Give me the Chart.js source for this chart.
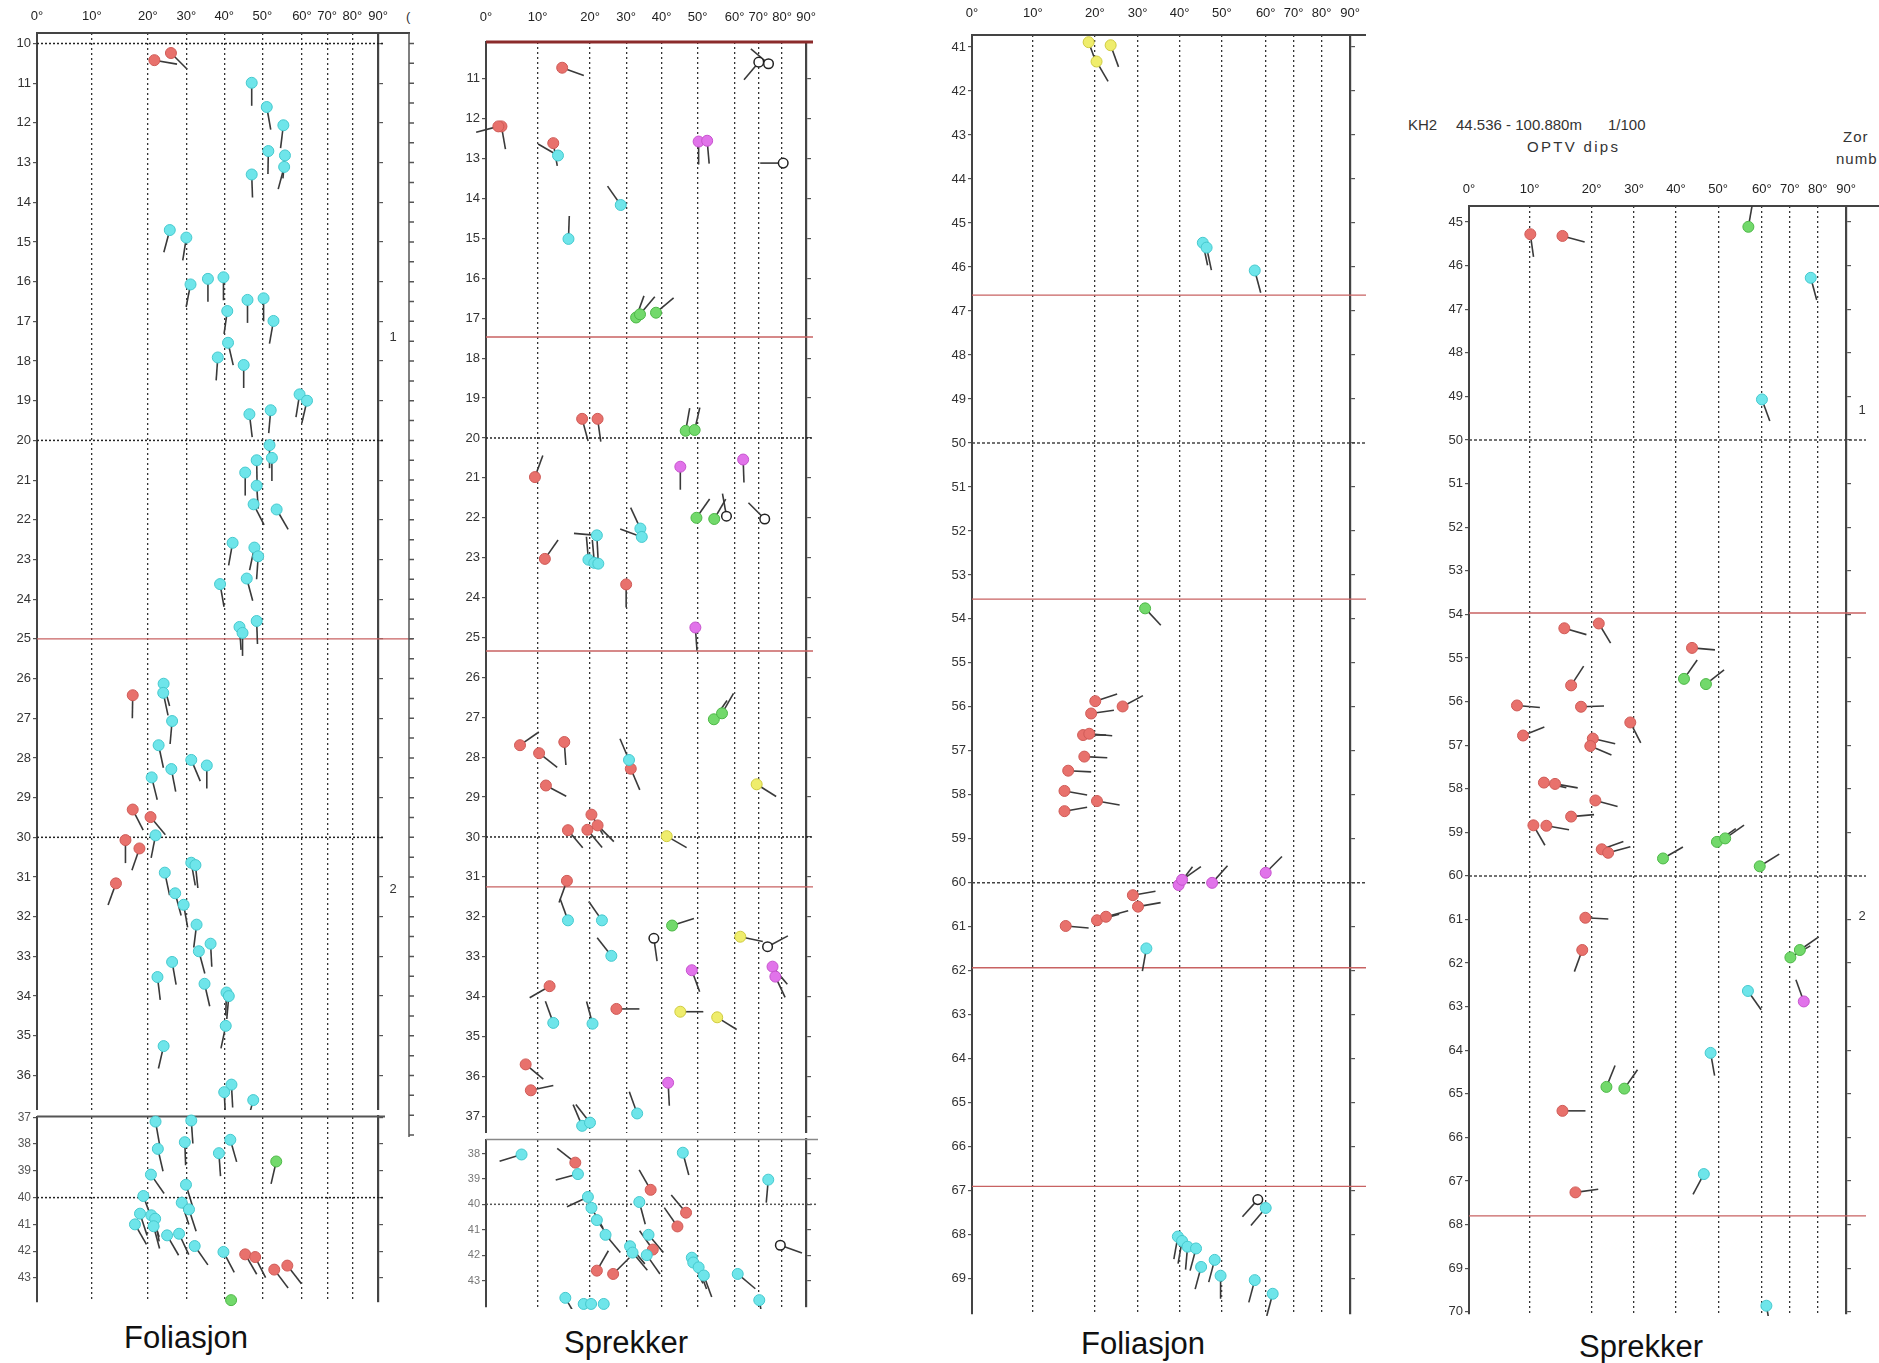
<!DOCTYPE html>
<html>
<head>
<meta charset="utf-8">
<title>OPTV dips</title>
<script src="https://cdn.jsdelivr.net/npm/chart.js@4.4.1/dist/chart.umd.min.js"></script>
<style>
  body { margin: 0; width: 1879px; height: 1363px; position: relative; overflow: hidden; background: #fff;
         font-family: "Liberation Sans", Arial, sans-serif; }
  .t { position: absolute; color: #222; white-space: pre; line-height: 1; }
  .big { font-size: 31px; transform: translate(-50%, -50%); color: #111; }
  .hd { font-size: 15px; color: #333; transform: translateY(-50%); }
</style>
</head>
<body>

<div class="t big" style="left:186px;top:1337px">Foliasjon</div>
<div class="t big" style="left:626px;top:1342px">Sprekker</div>
<div class="t big" style="left:1143px;top:1343px">Foliasjon</div>
<div class="t big" style="left:1641px;top:1346px">Sprekker</div>

<div class="t hd" style="left:1408px;top:124px">KH2</div>
<div class="t hd" style="left:1456px;top:124px">44.536 - 100.880m</div>
<div class="t hd" style="left:1608px;top:124px">1/100</div>
<div class="t hd" style="left:1527px;top:146px;letter-spacing:2.3px">OPTV dips</div>
<div class="t hd" style="left:1843px;top:136px;letter-spacing:1px">Zor</div>
<div class="t hd" style="left:1836px;top:158px;letter-spacing:1px">numb</div>
<div class="t hd" style="left:406px;top:16px;font-size:13px">(</div>

<script>
// Dip ticks on the top axis (degrees)
const dipTicks = [0, 10, 20, 30, 40, 50, 60, 70, 80, 90];

// Tadpoles: [dip °, depth m, tail azimuth °]
// Panel 1 - Foliasjon 10-44 m
const p1Red = [[21.7,10.42,100],[26,10.24,135],[17.3,26.42,181],[17.3,29.3,153],[20.7,29.49,140],
  [16,30.07,180],[18.5,30.28,199],[14.3,31.16,200],[45.5,42.12,150],[48.1,42.22,153],[53,42.69,143],[56.3,42.54,142]];
const p1Cyan = [[47.2,10.99,180],[51.1,11.6,170],[55.3,12.06,187],[51.5,12.71,181],[55.7,12.82,185],[55.5,13.11,195],
  [47.2,13.3,178],[25.7,14.7,195],[30,14.89,189],[31.1,16.07,191],[35.7,15.93,180],[39.8,15.89,180],[46.1,16.46,180],
  [50.3,16.42,180],[40.8,16.74,188],[52.8,16.99,190],[41,17.54,167],[38.3,17.91,184],[45.1,18.1,180],[59.4,18.84,189],
  [62,19,193],[46.6,19.34,173],[52.1,19.24,185],[51.8,20.12,180],[52.4,20.44,180],[48.5,20.5,179],[45.5,20.81,180],
  [48.5,21.14,176],[47.7,21.61,153],[53.6,21.74,150],[42.2,22.58,190],[47.9,22.7,192],[48.9,22.92,184],[45.9,23.48,165],
  [38.9,23.62,170],[48.5,24.55,178],[44,24.7,176],[44.8,24.85,180],[24.1,26.13,165],[24,26.36,168],[26.3,27.07,185],
  [22.8,27.68,168],[31.3,28.05,157],[35.4,28.19,180],[26.1,28.28,169],[21,28.49,166],[22,29.95,191],[31.3,30.64,170],
  [32.4,30.7,174],[24.4,30.89,168],[27.1,31.41,165],[29.3,31.7,170],[32.7,32.2,187],[36.4,32.68,177],[33.3,32.87,165],
  [26.3,33.14,170],[22.5,33.52,173],[34.8,33.69,167],[40.6,33.91,182],[41.2,34.0,185],[40.4,34.75,192],[24.1,35.26,193],
  [41.9,36.23,177],[40,36.42,177],[47.6,36.62,195],
  [22,37.16,170],[31.3,37.12,176],[41.6,37.84,164],[29.6,37.93,178],[22.6,38.18,167],[38.6,38.34,176],[20.8,39.14,145],
  [29.9,39.52,163],[19.2,39.94,160],[28.8,40.19,162],[30.7,40.44,162],[18.6,40.6,162],[20.9,40.66,160],[21.9,40.79,170],
  [17.7,41.0,150],[21.5,41.07,165],[25,41.41,150],[28.1,41.35,155],[32.2,41.81,145],[39.8,42.03,152]];
const p1Green = [[53.5,38.65,193],[41.8,43.83,160]];
const p1RedLines = [25.0];
const p1DotLines = [10, 20, 30, 40];
const p1ZoneNames = ['1', '2'];
const p1ZoneDepths = [17.4, 31.3];

// Panel 2 - Sprekker 10-44 m
const p2Red = [[14.7,10.72,110],[3.0,12.19,170],[2.4,12.19,255],[13.0,12.61,170],[18.5,19.52,165],[22.1,19.52,172],
  [9.5,20.98,20],[11.4,23.03,35],[30,23.67,180],[6.6,27.7,55],[10.3,27.9,128],[15.1,27.62,176],[31.3,28.29,157],
  [11.6,28.71,118],[20.4,29.44,150],[22.1,29.71,135],[15.8,29.83,140],[19.5,29.82,140],[15.6,31.1,200],[12.3,33.74,240],
  [27.3,34.31,90],[7.7,35.7,130],[8.7,36.35,78],[17.2,38.36,308],[36.9,39.43,330],[46.8,40.33,320],[44.4,40.87,325],
  [37.5,41.78,325],[21.9,42.61,30],[26.4,42.74,45]];
const p2Cyan = [[13.9,12.92,300],[28.5,14.16,325],[15.9,15.01,2],[21.9,22.44,275],[19.7,23.05,355],[21.2,23.13,355],
  [22.3,23.15,357],[34,22.27,335],[34.4,22.48,290],[30.8,28.07,337],[15.8,32.09,340],[23.3,32.09,325],[25.9,32.98,322],
  [13.0,34.66,340],[20.7,34.68,345],[33.1,36.93,340],[18.5,37.24,337],[20,37.16,322],
  [6.9,38.04,253],[45.9,37.97,165],[17.7,38.81,255],[74.2,39.03,185],[19.6,39.71,245],[33.7,39.91,165],[20.4,40.14,150],
  [21.9,40.62,145],[24.3,41.2,140],[36.3,41.2,140],[31.1,41.65,140],[31.8,41.9,140],[35.8,42.0,145],[48.4,42.1,150],
  [48.8,42.29,155],[50.3,42.48,160],[51.7,42.8,160],[61.3,42.74,130],[70.4,43.77,170],[15.3,43.68,150],[18.8,43.92,160],
  [20.3,43.92,160],[23.8,43.92,160]];
const p2Green = [[32.8,16.98,20],[33.9,16.9,40],[38.4,16.86,50],[46.7,19.82,10],[49.2,19.8,13],[49.7,22.0,35],
  [54.5,22.03,30],[54.4,27.05,35],[56.6,26.9,30],[42.9,32.22,72]];
const p2Magenta = [[50.3,12.57,180],[52.6,12.55,175],[45.2,20.72,180],[63.6,20.54,178],[49.4,24.75,176],[48.4,33.34,160],
  [76.0,33.25,140],[77.2,33.5,155],[41.8,36.16,177]];
const p2Yellow = [[69.3,28.68,122],[41.4,29.98,120],[62.4,32.5,102],[45.2,34.38,90],[55.3,34.52,122]];
const p2Open = [[70.2,10.58,220],[74.3,10.62,310],[80.5,13.11,270],[57.8,21.96,350],[72.7,22.03,315],[37.8,32.54,172],
  [73.9,32.75,62],[79.3,41.61,110]];
const p2RedLines = [17.47, 25.34, 31.25];
const p2DotLines = [20, 30, 40];

// Panel 3 - Foliasjon 41-70 m
const p3Red = [[20.1,55.87,72],[26.5,55.99,62],[19.4,56.15,82],[18.1,56.64,90],[19.1,56.61,95],[18.3,57.13,93],
  [15.7,57.45,93],[15.1,57.91,100],[20.5,58.14,100],[15.1,58.37,80],[28.9,60.28,80],[30.1,60.54,80],[20.5,60.85,75],
  [22.6,60.77,75],[15.3,60.98,95]];
const p3Cyan = [[45.5,45.45,168],[46.4,45.56,168],[57.5,46.08,165],[32.1,61.49,190],[60,67.39,220],[39.6,68.04,190],
  [40.6,68.14,190],[41.9,68.27,185],[43.9,68.31,195],[45.1,68.73,195],[48.3,68.57,195],[49.7,68.93,180],[57.5,69.03,195],
  [62.5,69.34,195]];
const p3Green = [[31.8,53.76,137]];
const p3Magenta = [[39.8,60.05,37],[40.6,59.93,55],[47.7,60.0,42],[60,59.77,45]];
const p3Yellow = [[19.0,40.89,160],[20.4,41.33,150],[23.7,40.96,160]];
const p3Open = [[58.2,67.2,222]];
const p3RedLines = [46.64, 53.55, 61.93, 66.9];
const p3DotLines = [50, 60];

// Panel 4 - Sprekker 45-70 m
const p4Red = [[10.1,45.28,172],[15.3,45.32,105],[21.7,54.21,149],[15.6,54.32,106],[43.8,54.77,95],[16.7,55.63,33],
  [7.9,56.09,95],[18.3,56.12,88],[29.1,56.48,153],[8.9,56.78,68],[20.3,56.85,103],[19.8,57.02,113],[12.3,57.86,103],
  [14.1,57.89,100],[20.9,58.27,105],[16.7,58.64,85],[10.6,58.84,150],[12.7,58.85,100],[22.4,59.39,70],[23.9,59.47,75],
  [19.0,60.96,93],[18.5,61.7,200],[15.3,65.39,90],[17.4,67.26,82]];
const p4Cyan = [[77.5,46.28,165],[60,49.07,160],[56.8,62.64,145],[48.2,64.06,170],[46.6,66.84,208],[61.6,69.86,170]];
const p4Green = [[56.9,45.11,10],[41.9,55.48,35],[47.1,55.6,52],[36.9,59.6,60],[49.7,59.22,55],[51.6,59.14,55],
  [59.5,59.78,58],[70.2,61.87,60],[73.6,61.7,55],[23.5,64.84,22],[27.7,64.88,35]];
const p4Magenta = [[75.0,62.88,340]];
const p4RedLines = [53.97, 67.8];
const p4DotLines = [50, 60];
const p4ZoneNames = ['1', '2'];
const p4ZoneDepths = [49.33, 60.94];

const FILL = { red: '#e8716c', cyan: '#6ee5ea', green: '#72d96b', magenta: '#e173ea', yellow: '#efed6c', open: '#ffffff' };
const EDGE = { red: '#cf5b57', cyan: '#45c9ce', green: '#4db847', magenta: '#c653cd', yellow: '#cfcb40', open: '#222222' };
const TAIL = 23;

// the dip axis of the log is stretched at low dips and squeezed at high dips
const WARP = [0, 0.161, 0.325, 0.438, 0.549, 0.661, 0.777, 0.851, 0.925, 1];
function dipFrac(v) {
  const c = Math.max(0, Math.min(90, v));
  const i = Math.min(8, Math.floor(c / 10));
  return WARP[i] + (WARP[i + 1] - WARP[i]) * (c - i * 10) / 10;
}
function fracDip(f) {
  for (let i = 0; i < 9; i++) {
    if (f <= WARP[i + 1]) return i * 10 + 10 * (f - WARP[i]) / (WARP[i + 1] - WARP[i]);
  }
  return 90;
}
class DipScale extends Chart.LinearScale {
  getPixelForValue(v) { return this.getPixelForDecimal(dipFrac(v)); }
  getValueForPixel(p) { return fracDip(this.getDecimalForPixel(p)); }
}
DipScale.id = 'dip';
DipScale.defaults = Chart.LinearScale.defaults;
Chart.register(DipScale);

const tailPlugin = {
  id: 'tails',
  beforeDatasetsDraw(chart) {
    const { ctx, chartArea: a } = chart;
    ctx.save();
    ctx.beginPath();
    ctx.rect(a.left - 30, a.top, a.right - a.left + 60, a.bottom - a.top + 2);
    ctx.clip();
    ctx.strokeStyle = '#3a3a3a';
    ctx.lineWidth = 1.6;
    chart.data.datasets.forEach((ds, i) => {
      chart.getDatasetMeta(i).data.forEach((pt, j) => {
        const az = ds.az[j] * Math.PI / 180;
        ctx.beginPath();
        ctx.moveTo(pt.x, pt.y);
        ctx.lineTo(pt.x + Math.sin(az) * TAIL, pt.y - Math.cos(az) * TAIL);
        ctx.stroke();
      });
    });
    ctx.restore();
  }
};

function guides(cfg) {
  return {
    id: 'guides',
    beforeDatasetsDraw(chart) {
      const { ctx, chartArea: a } = chart;
      const ys = chart.scales.y;
      const line = (d, color, width, dash, ext) => {
        const y = ys.getPixelForValue(d);
        ctx.beginPath();
        ctx.setLineDash(dash);
        ctx.strokeStyle = color;
        ctx.lineWidth = width;
        ctx.moveTo(a.left, y);
        ctx.lineTo(a.right + ext, y);
        ctx.stroke();
      };
      const inside = d => d > cfg.min + 0.01 && d < cfg.max;
      ctx.save();
      cfg.dots.filter(inside).forEach(d => line(d, cfg.dotColor || '#222', 1.5, cfg.dotDash || [2, 2], cfg.dotExt));
      cfg.reds.filter(inside).forEach(d => line(d, '#c86262', 1.4, [], cfg.redExt));
      line(cfg.min, cfg.topColor, cfg.topWidth, [], cfg.topExt);
      ctx.setLineDash([]);
      if (cfg.zone) {
        const z = cfg.zone;
        const x = a.right + z.off;
        ctx.strokeStyle = '#555';
        ctx.lineWidth = 1.5;
        if (z.axis) {
          ctx.beginPath();
          ctx.moveTo(x, a.top);
          ctx.lineTo(x, a.bottom);
          for (let d = Math.ceil(cfg.min * 2) / 2; d <= cfg.max; d += 0.5) {
            const y = ys.getPixelForValue(d);
            ctx.moveTo(x, y);
            ctx.lineTo(x + 5, y);
          }
          ctx.stroke();
        }
        ctx.fillStyle = '#333';
        ctx.font = '13px "Liberation Sans", Arial, sans-serif';
        ctx.textAlign = 'center';
        ctx.textBaseline = 'middle';
        z.names.forEach((n, i) => ctx.fillText(n, x + z.labelDx, ys.getPixelForValue(z.depths[i])));
      }
      ctx.restore();
    }
  };
}

function makeChart(cfg) {
  const cv = document.createElement('canvas');
  cv.width = cfg.w;
  cv.height = cfg.h;
  cv.style.cssText = `position:absolute;left:${cfg.left}px;top:${cfg.top}px;width:${cfg.w}px;height:${cfg.h}px;` +
    (cfg.white ? 'background:#fff;' : '');
  document.body.appendChild(cv);

  const inRange = p => p[1] >= cfg.min && p[1] <= cfg.max;
  const datasets = cfg.groups.map(([kind, pts]) => {
    const sel = pts.filter(inRange);
    return {
      label: kind,
      data: sel.map(p => ({ x: p[0], y: p[1] })),
      az: sel.map(p => p[2]),
      pointRadius: kind === 'open' ? 4.8 : 5.5,
      pointBackgroundColor: FILL[kind],
      pointBorderColor: EDGE[kind],
      pointBorderWidth: kind === 'open' ? 1.5 : 1,
      clip: 8
    };
  });

  const lastTick = cfg.tickMax !== undefined ? cfg.tickMax : Math.floor(cfg.max);
  const depthTicks = s => {
    const t = [];
    for (let d = Math.ceil(cfg.min); d <= lastTick; d++) t.push({ value: d });
    s.ticks = t;
  };
  const font = { family: '"Liberation Sans", Arial, sans-serif', size: cfg.fontSize || 13 };

  return new Chart(cv, {
    type: 'scatter',
    data: { datasets },
    options: {
      responsive: false,
      animation: false,
      events: [],
      layout: { padding: { left: 0, right: 0, top: 0, bottom: cfg.padBottom } },
      plugins: { legend: { display: false }, tooltip: { enabled: false } },
      scales: {
        x: {
          type: 'dip', position: 'top', min: 0, max: 90,
          afterBuildTicks: s => { s.ticks = dipTicks.map(v => ({ value: v })); },
          afterFit: s => { s.height = cfg.xH; s.paddingLeft = 0; s.paddingRight = 0; },
          ticks: { display: cfg.labels, callback: v => v + '°', color: '#222', padding: cfg.xPad || 9,
                   maxRotation: 0, autoSkip: false, font: { family: font.family, size: 13 } },
          grid: { drawTicks: false, lineWidth: 1.3,
                  color: c => (c.tick && (c.tick.value === 0 || c.tick.value === 90)) ? 'rgba(0,0,0,0)' : '#333' },
          border: { display: false, dash: [2, 3] }
        },
        y: {
          type: 'linear', position: 'left', reverse: true, min: cfg.min, max: cfg.max,
          afterBuildTicks: depthTicks,
          afterFit: s => { s.width = cfg.yW; s.paddingTop = 0; s.paddingBottom = 0; },
          ticks: { color: cfg.tickColor || '#333', padding: 2, font },
          grid: { drawOnChartArea: false, drawTicks: true, tickLength: 4, color: '#555', lineWidth: 1.2 },
          border: { color: '#444', width: 2 }
        },
        y2: {
          type: 'linear', position: 'right', reverse: true, min: cfg.min, max: cfg.max,
          afterBuildTicks: depthTicks,
          afterFit: s => { s.width = cfg.y2W; s.paddingTop = 0; s.paddingBottom = 0; },
          ticks: { display: false },
          grid: { drawOnChartArea: false, drawTicks: true, tickLength: 5, color: '#555', lineWidth: 1.2 },
          border: { color: '#444', width: 2.2 }
        }
      }
    },
    plugins: [guides(cfg), tailPlugin]
  });
}

const g1 = [['cyan', p1Cyan], ['green', p1Green], ['red', p1Red]];
const g2 = [['cyan', p2Cyan], ['green', p2Green], ['magenta', p2Magenta], ['yellow', p2Yellow], ['red', p2Red], ['open', p2Open]];
const g3 = [['cyan', p3Cyan], ['green', p3Green], ['magenta', p3Magenta], ['yellow', p3Yellow], ['red', p3Red], ['open', p3Open]];
const g4 = [['cyan', p4Cyan], ['green', p4Green], ['magenta', p4Magenta], ['red', p4Red]];

// panel 1, upper and lower log sections
makeChart({ left: 0, top: 0, w: 430, h: 1149, xH: 33, yW: 37, y2W: 52, padBottom: 12, min: 9.7355, max: 37.55,
  labels: true, xPad: 9, groups: g1, reds: p1RedLines, dots: p1DotLines, dotExt: 7, redExt: 35,
  topColor: '#444', topWidth: 2, topExt: 32,
  zone: { off: 31, axis: true, labelDx: -16, names: p1ZoneNames, depths: p1ZoneDepths } });
makeChart({ left: 0, top: 1110, w: 392, h: 200, xH: 6, yW: 37, y2W: 14, padBottom: 8, min: 36.97, max: 43.9,
  labels: false, white: true, fontSize: 12, tickColor: '#555', groups: g1, reds: p1RedLines, dots: p1DotLines,
  dotExt: 7, redExt: 7, topColor: '#555', topWidth: 2, topExt: 7 });

// panel 2, upper and lower log sections
makeChart({ left: 440, top: 0, w: 390, h: 1149, xH: 42, yW: 46, y2W: 24, padBottom: 12, min: 10.075, max: 37.52,
  labels: true, xPad: 17, groups: g2, reds: p2RedLines, dots: p2DotLines, dotExt: 7, redExt: 7,
  topColor: '#8b2b2b', topWidth: 3, topExt: 7 });
makeChart({ left: 440, top: 1133, w: 380, h: 182, xH: 4, yW: 46, y2W: 14, padBottom: 8, min: 37.45, max: 44.04,
  tickMax: 43, labels: false, white: true, fontSize: 11, tickColor: '#777', groups: g2, reds: p2RedLines,
  dots: p2DotLines, dotColor: '#555', dotExt: 10, redExt: 10, topColor: '#888', topWidth: 1.5, topExt: 12 });

// panel 3
makeChart({ left: 930, top: 0, w: 440, h: 1326, xH: 35, yW: 42, y2W: 20, padBottom: 12, min: 40.727, max: 69.8,
  labels: true, xPad: 14, groups: g3, reds: p3RedLines, dots: p3DotLines, dotColor: '#444', dotDash: [3, 2],
  dotExt: 16, redExt: 16, topColor: '#444', topWidth: 2, topExt: 16 });

// panel 4
makeChart({ left: 1420, top: 170, w: 459, h: 1156, xH: 36, yW: 49, y2W: 33, padBottom: 12, min: 44.633, max: 70.05,
  labels: true, xPad: 9, groups: g4, reds: p4RedLines, dots: p4DotLines, dotColor: '#444', dotDash: [3, 2],
  dotExt: 20, redExt: 20, topColor: '#444', topWidth: 2, topExt: 33,
  zone: { off: 16, axis: false, labelDx: 0, names: p4ZoneNames, depths: p4ZoneDepths } });
</script>
</body>
</html>
